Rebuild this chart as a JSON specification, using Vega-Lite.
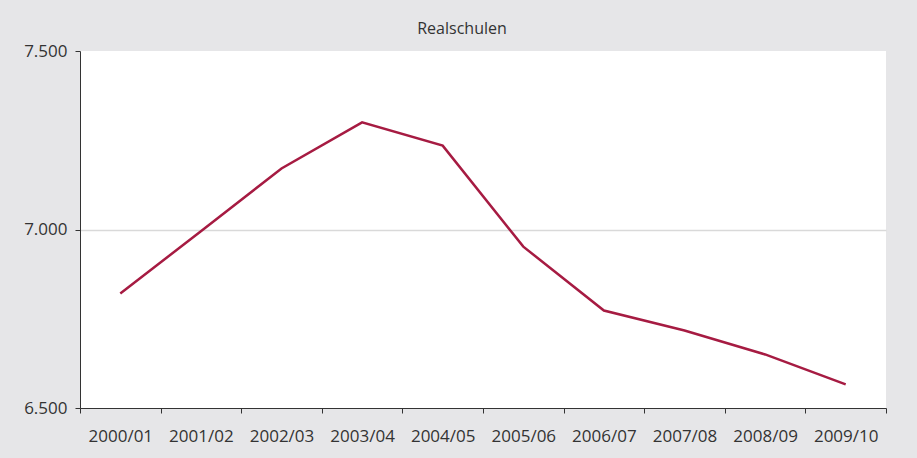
{
  "$schema": "https://vega.github.io/schema/vega-lite/v6.json",
  "width": 806,
  "height": 357,
  "autosize": {"type": "none"},
  "padding": {"left": 80, "top": 51, "right": 31, "bottom": 50},
  "background": "#e6e6e8",
  "title": {"text": "Realschulen", "fontSize": 16, "fontWeight": "normal", "font": "Open Sans", "color": "#333333", "offset": 5, "anchor": "middle", "dx": -21},
  "config": {
    "locale": {"number": {"decimal": ",", "thousands": ".", "grouping": [3], "currency": ["", " €"]}},
    "view": {"fill": "white", "stroke": null},
    "axis": {"labelFont": "Open Sans", "labelFontSize": 17, "labelColor": "#333333", "domainColor": "#333333", "tickColor": "#333333", "domainWidth": 1, "tickWidth": 1, "title": null}
  },
  "data": {"values": [
    {"jahr": "2000/01", "wert": 6821},
    {"jahr": "2001/02", "wert": 6995},
    {"jahr": "2002/03", "wert": 7171},
    {"jahr": "2003/04", "wert": 7300},
    {"jahr": "2004/05", "wert": 7235},
    {"jahr": "2005/06", "wert": 6952},
    {"jahr": "2006/07", "wert": 6773},
    {"jahr": "2007/08", "wert": 6717},
    {"jahr": "2008/09", "wert": 6650},
    {"jahr": "2009/10", "wert": 6566}
  ]},
  "mark": {"type": "line", "color": "#a61b42", "strokeWidth": 2.5},
  "encoding": {
    "x": {"field": "jahr", "type": "ordinal", "bandPosition": 0.5,
      "scale": {"type": "band", "paddingInner": 0, "paddingOuter": 0},
      "axis": {"labelAngle": 0, "tickBand": "extent", "tickSize": 5, "labelPadding": 15, "grid": false}},
    "y": {"field": "wert", "type": "quantitative",
      "scale": {"domain": [6500, 7500], "zero": false, "nice": false},
      "axis": {"values": [6500, 7000, 7500], "format": ",d", "tickSize": 5, "labelPadding": 8,
        "grid": true, "gridColor": {"condition": {"test": "datum.value == 7000", "value": "#d9d9d9"}, "value": "transparent"}, "gridWidth": 1.5}}
  }
}
